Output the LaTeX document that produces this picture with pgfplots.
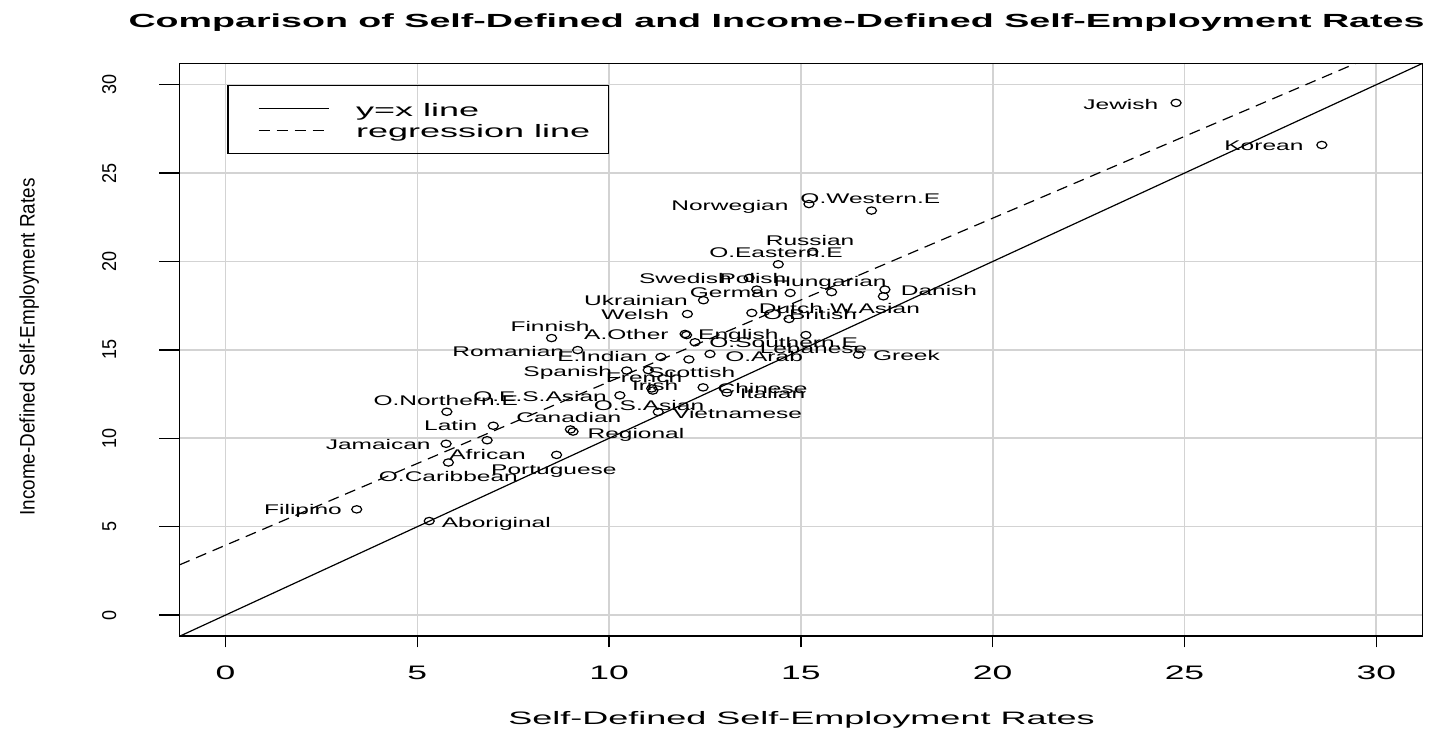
\documentclass[border=0pt]{standalone}
\usepackage{fontspec}
\setmainfont{Liberation Sans}
\newfontfamily\lblfont{Liberation Sans}[FakeStretch=1.75]
\newfontfamily\widefont{Liberation Sans}[FakeStretch=2.0]
\newfontfamily\tickfont{Liberation Sans}[FakeStretch=1.82]
\newfontfamily\titlefont{Liberation Sans}[FakeStretch=1.98]
\newfontfamily\narrowfont{Liberation Sans}[FakeStretch=0.9]
\usepackage{pgfplots}
\usepackage{pgfplotstable}
\pgfplotsset{compat=1.18}
\definecolor{gridgray}{HTML}{D3D3D3}

\pgfplotstableread{
x y name
24.78 28.97 Jewish
28.58 26.59 Korean
15.21 23.25 Norwegian
16.84 22.88 O.Western.E
15.31 20.55 Russian
14.41 19.84 O.Eastern.E
13.65 19.07 Swedish
13.85 18.41 Polish
14.72 18.22 German
15.80 18.27 Hungarian
17.19 18.41 Danish
17.15 18.03 W.Asian
12.46 17.81 Ukrainian
12.04 17.03 Welsh
13.72 17.09 O.British
14.69 16.75 Dutch
8.50 15.67 Finnish
11.98 15.90 A.Other
12.02 15.84 English
15.13 15.84 Lebanese
12.24 15.43 O.Southern.E
9.18 14.99 Romanian
11.35 14.60 E.Indian
12.08 14.46 Scottish
12.63 14.77 O.Arab
16.50 14.73 Greek
10.46 13.83 Spanish
11.02 13.86 French
11.11 12.82 Irish
11.14 12.70 O.S.Asian
12.45 12.88 Chinese
13.07 12.58 Italian
10.28 12.43 O.E.S.Asian
5.77 11.50 O.Northern.E
11.28 11.49 Vietnamese
8.99 10.50 Canadian
9.06 10.38 Regional
6.98 10.71 Latin
5.75 9.69 Jamaican
6.82 9.89 African
5.81 8.63 O.Caribbean
8.63 9.06 Portuguese
3.42 5.98 Filipino
5.31 5.32 Aboriginal
}\pointdata

\pgfplotstableread{
x y name
23.34 28.91 Jewish
27.07 26.59 Korean
13.15 23.20 Norwegian
16.81 23.57 O.Western.E
15.24 21.18 Russian
14.35 20.50 O.Eastern.E
11.99 19.07 Swedish
13.75 19.07 Polish
15.76 18.91 Hungarian
13.26 18.27 German
18.60 18.39 Danish
16.93 17.37 W.Asian
14.74 17.37 Dutch
10.70 17.81 Ukrainian
10.68 16.99 Welsh
15.24 16.99 O.British
8.46 16.35 Finnish
10.45 15.86 A.Other
13.37 15.86 English
14.55 15.45 O.Southern.E
15.33 15.11 Lebanese
7.37 14.90 Romanian
9.82 14.62 E.Indian
14.04 14.62 O.Arab
17.75 14.69 Greek
8.92 13.81 Spanish
12.15 13.71 Scottish
10.91 13.43 French
11.20 13.01 Irish
14.00 12.83 Chinese
14.26 12.55 Italian
8.20 12.36 O.E.S.Asian
11.04 11.88 O.S.Asian
5.74 12.13 O.Northern.E
13.35 11.41 Vietnamese
8.95 11.19 Canadian
10.70 10.28 Regional
5.87 10.75 Latin
3.98 9.68 Jamaican
6.83 9.11 African
5.81 7.83 O.Caribbean
8.56 8.25 Portuguese
2.02 5.98 Filipino
7.06 5.28 Aboriginal
}\labeldata

\begin{document}
\begin{tikzpicture}
\path[use as bounding box] (-89.75pt,-47.85pt) rectangle (629.25pt,318.15pt);
\begin{axis}[
  at={(0pt,0pt)}, anchor=south west,
  scale only axis, width=621.4pt, height=286.4pt,
  xmin=-1.2, xmax=31.2, ymin=-1.2, ymax=31.2,
  xtick={0,5,...,30}, ytick={0,5,...,30},
  grid=major, grid style={gridgray, line width=0.8pt},
  axis line style={line width=0.8pt},
  tick align=outside, xtick pos=left, ytick pos=left,
  xtick style={black, line width=0.7pt, /pgfplots/major tick length=5.5pt},
  ytick style={black, line width=0.7pt, /pgfplots/major tick length=10pt},
  /pgf/number format/assume math mode=true,
  xticklabel style={font=\tickfont\fontsize{9.75pt}{11pt}\selectfont, anchor=center, yshift=-14pt},
  yticklabel style={font=\narrowfont\fontsize{10pt}{12pt}\selectfont, xshift=-30.85pt, rotate=90, anchor=center},
  title={Comparison of Self-Defined and Income-Defined Self-Employment Rates},
  title style={at={(axis description cs:0.4804,1.0498)}, anchor=center, xshift=0pt, yshift=0pt, font=\titlefont\bfseries\fontsize{9.5pt}{11pt}\selectfont},
  xlabel={Self-Defined Self-Employment Rates},
  xlabel style={at={(axis description cs:0.5005,-0.146)}, anchor=center, xshift=0pt, yshift=0pt, font=\widefont\fontsize{9pt}{11pt}\selectfont},
  ylabel={Income-Defined Self-Employment Rates},
  ylabel style={at={(axis description cs:-0.121,0.505)}, anchor=center, font=\narrowfont\fontsize{10.5pt}{12pt}\selectfont},
  legend style={at={(axis cs:0.05,29.98)}, anchor=north west, draw=black, line width=0.6pt, fill=none,
    inner xsep=0pt, inner ysep=7.25pt, row sep=2.35pt, column sep=13.5pt,
    nodes={inner sep=0pt, text height=8pt, text depth=0.5pt, font=\widefont\fontsize{9pt}{11pt}\selectfont}},
  legend cell align=left,
  legend image code/.code={\path[draw=none] (-15.25pt,0pt) -- (0pt,0pt); \draw[#1, line width=0.6pt] (0pt,0pt) -- (35pt,0pt);},
]
\addplot[only marks, mark=o, mark size=1.83pt, mark options={xscale=1.37, line width=0.6pt, black}, forget plot]
  table[x=x, y=y] {\pointdata};
\addplot[draw=none, mark=none, forget plot, point meta=explicit symbolic, nodes near coords,
  every node near coord/.append style={anchor=mid, inner sep=0pt, font=\lblfont\fontsize{7pt}{8pt}\selectfont, black}]
  table[x=x, y=y, meta=name] {\labeldata};
\addplot[black, line width=0.6pt] coordinates {(-1.2,-1.2) (31.2,31.2)};
\addlegendentry{\makebox[126.25pt][l]{y=x line}}
\addplot[black, line width=0.6pt, dash pattern=on 5.5pt off 3.5pt] coordinates {(-1.2,2.84) (31.2,32.81)};
\addlegendentry{\makebox[126.25pt][l]{regression line}}
\end{axis}
\end{tikzpicture}
\end{document}
